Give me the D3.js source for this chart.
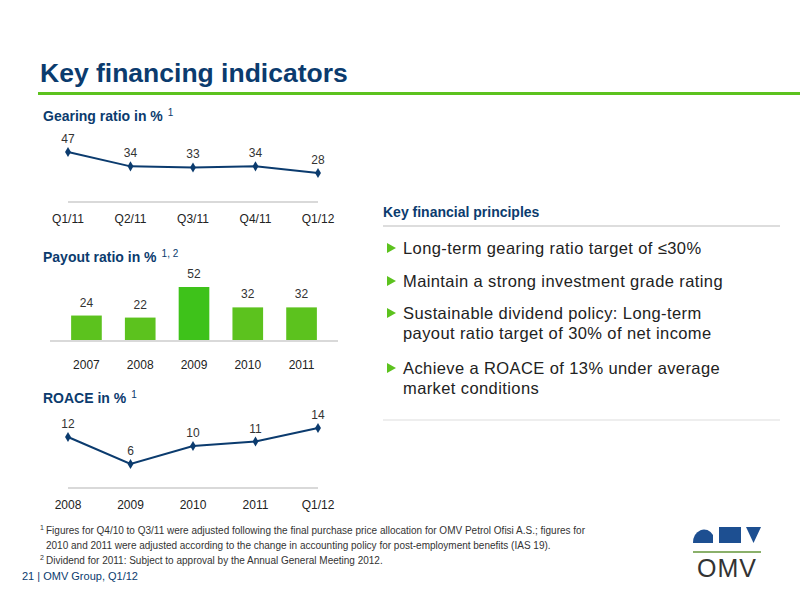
<!DOCTYPE html>
<html><head><meta charset="utf-8">
<script src="https://cdn.jsdelivr.net/npm/d3@7"></script>
<style>body{margin:0;background:#fff}text{font-family:Arial,"Liberation Sans",sans-serif}</style>
</head><body><svg id="c" width="800" height="600"></svg>
<script>
const gearCats = ["Q1/11", "Q2/11", "Q3/11", "Q4/11", "Q1/12"];
const gearVals = [47, 34, 33, 34, 28];
const payCats = ["2007", "2008", "2009", "2010", "2011"];
const payVals = [24, 22, 52, 32, 32];
const roaceCats = ["2008", "2009", "2010", "2011", "Q1/12"];
const roaceVals = [12, 6, 10, 11, 14];
const bullets = [
  ["Long-term gearing ratio target of ≤30%"],
  ["Maintain a strong investment grade rating"],
  ["Sustainable dividend policy: Long-term", "payout ratio target of 30% of net income"],
  ["Achieve a ROACE of 13% under average", "market conditions"]
];

const navy = "#0b3b6e", green = "#5cc21e";
const svg = d3.select("#c");

svg.append("text").attr("x", 40).attr("y", 82).attr("font-size", 26.5).attr("font-weight", "bold").attr("fill", navy).text("Key financing indicators");
svg.append("rect").attr("x", 38).attr("y", 92).attr("width", 762).attr("height", 3).attr("fill", green);

function heading(y, t, sup) {
  const tx = svg.append("text").attr("x", 43).attr("y", y).attr("font-size", 14).attr("font-weight", "bold").attr("fill", navy).text(t);
  tx.append("tspan").attr("dx", 5).attr("dy", -5).attr("font-size", 10).attr("font-weight", "normal").text(sup);
}
heading(121, "Gearing ratio in %", "1");
heading(262, "Payout ratio in %", "1, 2");
heading(403, "ROACE in %", "1");

function lineChart(cats, vals, yDomain, yRange, axisY) {
  const x = d3.scalePoint().domain(cats).range([68, 318]);
  const y = d3.scaleLinear().domain(yDomain).range(yRange);
  svg.append("line").attr("x1", 68).attr("x2", 318).attr("y1", axisY).attr("y2", axisY).attr("stroke", "#ccc").attr("stroke-width", 1.5);
  svg.append("path").datum(vals).attr("fill", "none").attr("stroke", navy).attr("stroke-width", 2)
    .attr("d", d3.line().x((d, i) => x(cats[i])).y(d => y(d)));
  svg.selectAll(null).data(vals).join("path")
    .attr("d", d3.symbol(d3.symbolDiamond, 30))
    .attr("transform", (d, i) => `translate(${x(cats[i])},${y(d)})`).attr("fill", navy);
  svg.selectAll(null).data(vals).join("text")
    .attr("x", (d, i) => x(cats[i])).attr("y", d => y(d) - 9).attr("text-anchor", "middle")
    .attr("font-size", 12).attr("fill", "#333").text(d => d);
  svg.selectAll(null).data(cats).join("text")
    .attr("x", d => x(d)).attr("y", axisY + 21).attr("text-anchor", "middle")
    .attr("font-size", 12).attr("fill", "#222").text(d => d);
}
lineChart(gearCats, gearVals, [28, 47], [173, 152], 202);
lineChart(roaceCats, roaceVals, [6, 14], [464, 428], 488);

// payout bars
const xb = d3.scaleBand().domain(payCats).range([48, 340]).padding(0.43);
const yb = d3.scaleLinear().domain([0, 52]).range([340, 287]);
svg.selectAll(null).data(payVals).join("rect")
  .attr("x", (d, i) => xb(payCats[i])).attr("width", xb.bandwidth())
  .attr("y", d => yb(d)).attr("height", d => 340 - yb(d))
  .attr("fill", (d, i) => i === 2 ? "#3ec21a" : green);
svg.selectAll(null).data(payVals).join("text")
  .attr("x", (d, i) => xb(payCats[i]) + xb.bandwidth() / 2).attr("y", d => yb(d) - 9)
  .attr("text-anchor", "middle").attr("font-size", 12).attr("fill", "#333").text(d => d);
svg.append("line").attr("x1", 50).attr("x2", 338).attr("y1", 341).attr("y2", 341).attr("stroke", "#ccc").attr("stroke-width", 1.5);
svg.selectAll(null).data(payCats).join("text")
  .attr("x", d => xb(d) + xb.bandwidth() / 2).attr("y", 369).attr("text-anchor", "middle")
  .attr("font-size", 12).attr("fill", "#222").text(d => d);

// right panel
svg.append("text").attr("x", 383).attr("y", 217).attr("font-size", 14).attr("font-weight", "bold").attr("fill", navy).text("Key financial principles");
svg.append("line").attr("x1", 383).attr("x2", 780).attr("y1", 226).attr("y2", 226).attr("stroke", "#bbb");
svg.append("line").attr("x1", 383).attr("x2", 780).attr("y1", 420).attr("y2", 420).attr("stroke", "#ddd");
const by = [254, 287, 319, 374];
bullets.forEach((b, i) => {
  svg.append("path").attr("d", `M387,${by[i] - 11}L396,${by[i] - 6}L387,${by[i] - 1}Z`).attr("fill", green);
  b.forEach((l, j) => svg.append("text").attr("x", 403).attr("y", by[i] + j * 20).attr("font-size", 16.5).attr("letter-spacing", 0.4).attr("fill", "#222").text(l));
});

// footnotes
const fn = [
  [534, "1", "Figures for Q4/10 to Q3/11 were adjusted following the final purchase price allocation for OMV Petrol Ofisi A.S.; figures for"],
  [549, "", "2010 and 2011 were adjusted according to the change in accounting policy for post-employment benefits (IAS 19)."],
  [564, "2", "Dividend for 2011: Subject to approval by the Annual General Meeting 2012."]
];
fn.forEach(([y, s, t]) => {
  if (s) svg.append("text").attr("x", 40).attr("y", y - 4).attr("font-size", 7).attr("fill", "#333").text(s);
  svg.append("text").attr("x", 46).attr("y", y).attr("font-size", 10).attr("fill", "#333").text(t);
});
svg.append("text").attr("x", 22).attr("y", 580).attr("font-size", 11).attr("fill", navy).text("21 | OMV Group, Q1/12");

// logo
svg.append("path").attr("d", "M693,543A11,13 0 0 1 713,535L713,543Z").attr("fill", "#1d4f91");
svg.append("rect").attr("x", 719).attr("y", 527).attr("width", 22).attr("height", 16).attr("fill", "#1d4f91");
svg.append("path").attr("d", "M746,527L761,527L753.5,543Z").attr("fill", "#1d4f91");
svg.append("rect").attr("x", 693).attr("y", 551).attr("width", 68).attr("height", 2).attr("fill", "#8ab06a");
svg.append("text").attr("x", 727).attr("y", 577).attr("text-anchor", "middle").attr("font-size", 25).attr("fill", "#333").attr("letter-spacing", 1).text("OMV");
</script></body></html>
